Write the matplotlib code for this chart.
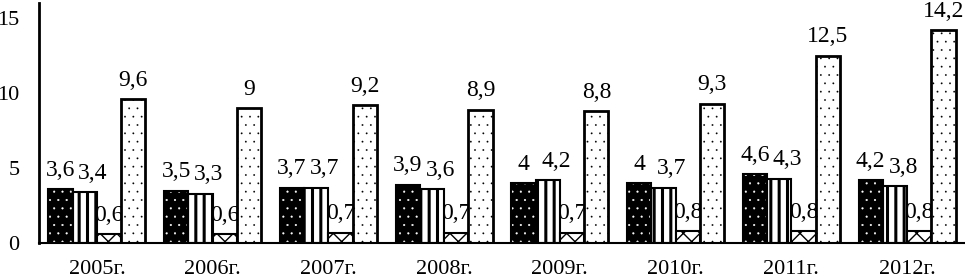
import matplotlib
matplotlib.use("Agg")
import matplotlib.pyplot as plt
import numpy as np

years = ["2005г.", "2006г.", "2007г.", "2008г.", "2009г.", "2010г.", "2011г.", "2012г."]
series1 = [3.6, 3.5, 3.7, 3.9, 4.0, 4.0, 4.6, 4.2]
series2 = [3.4, 3.3, 3.7, 3.6, 4.2, 3.7, 4.3, 3.8]
series3 = [0.6, 0.6, 0.7, 0.7, 0.7, 0.8, 0.8, 0.8]
series4 = [9.6, 9.0, 9.2, 8.9, 8.8, 9.3, 12.5, 14.2]
yticks = [0, 5, 10, 15]

plt.rcParams['font.family'] = ['Liberation Serif', 'DejaVu Serif']

fig = plt.figure(figsize=(9.65, 2.8), dpi=100)
ax = fig.add_axes([39/965, 37/280, 1 - 39/965, 240/280])

x = np.arange(len(years))
w = 0.21
offs = [-1.5*w, -0.5*w, 0.5*w, 1.5*w]
label_dx = [0, 6, 0, 0]  # points

def fmt(v):
    s = f"{v:g}"
    return s.replace('.', ',')

# series 1: black with white dots
plt.rcParams['hatch.linewidth'] = 0.3
ax.bar(x + offs[0], series1, w, color='black', edgecolor='white', hatch='..', lw=0, zorder=2)
ax.bar(x + offs[0], series1, w, fill=False, edgecolor='black', lw=1.5, zorder=3)
# series 2: vertical stripes
plt.rcParams['hatch.linewidth'] = 2.2
ax.bar(x + offs[1], series2, w, color='white', edgecolor='black', hatch='||', lw=1.5, zorder=2)
# series 3: cross
plt.rcParams['hatch.linewidth'] = 1.0
ax.bar(x + offs[2], series3, w, color='white', edgecolor='black', hatch='xx', lw=1.5, zorder=2)
# series 4: sparse dots
plt.rcParams['hatch.linewidth'] = 0.1
ax.bar(x + offs[3], series4, w, color='white', edgecolor='black', hatch='..', lw=2, zorder=2)

for vals, off, dx in zip([series1, series2, series3, series4], offs, label_dx):
    for xi, v in zip(x, vals):
        ax.annotate(fmt(v), (xi + off, v), xytext=(dx, 13.5), textcoords='offset points',
                    ha='center', va='center', fontsize=17, zorder=1)

ax.set_xlim(-0.5, 7.5)
ax.set_ylim(0, 16)
ax.set_xticks(x)
ax.set_xticklabels(years, fontsize=16)
ax.set_yticks(yticks)
ax.set_yticklabels([str(t) for t in yticks], fontsize=16)
ax.tick_params(axis='both', length=0)
ax.tick_params(axis='x', pad=12)
ax.tick_params(axis='y', pad=14)
for s in ['top', 'right']:
    ax.spines[s].set_visible(False)
ax.spines['left'].set_linewidth(2)
ax.spines['bottom'].set_linewidth(1.5)

fig.savefig("out.png", dpi=100)
